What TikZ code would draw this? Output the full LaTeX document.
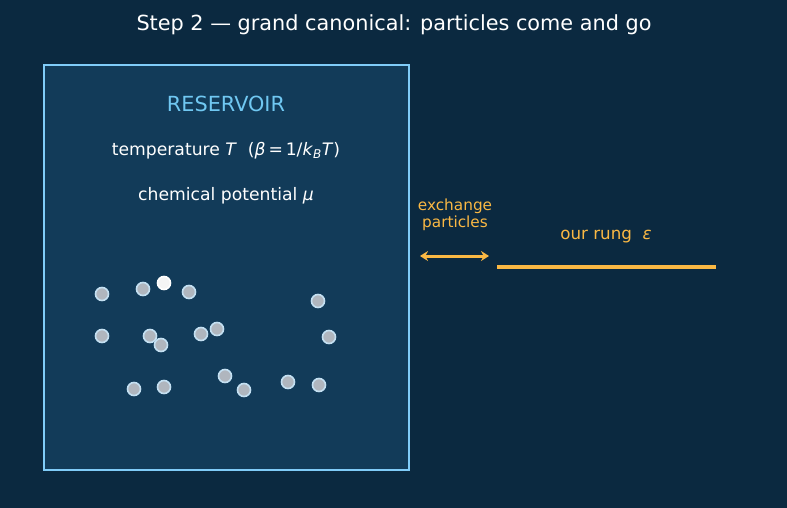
\documentclass[tikz,border=0pt]{standalone}
\usepackage{fontspec}
\usetikzlibrary{arrows.meta}
\setmainfont{DejaVu Sans}
\definecolor{bgnavy}{RGB}{11,41,64}
\definecolor{boxfill}{RGB}{18,59,89}
\definecolor{boxedge}{RGB}{128,204,248}
\definecolor{restext}{RGB}{112,200,242}
\definecolor{rungorange}{RGB}{250,184,68}
\definecolor{dotgray}{RGB}{176,182,190}
\definecolor{dotedge}{RGB}{196,224,242}
\tikzset{
  particle/.style={circle,fill=dotgray,draw=dotedge,line width=1.6pt,minimum size=13pt,inner sep=0pt},
  hotparticle/.style={particle,fill=white!92!gray,draw=white},
  infotext/.style={text=white,font=\fontsize{17.2}{20}\selectfont},
  orangetext/.style={text=rungorange,align=center},
}
\begin{document}
\begin{tikzpicture}[x=1pt,y=-1pt]
  % Background
  \fill[bgnavy] (0,0) rectangle (787,508);
  \useasboundingbox (0,0) rectangle (787,508);
  % Title
  \node[text=white,font=\fontsize{20.8}{24}\selectfont] (title) at (394,25) {Step 2 — grand canonical: particles come and go};
  % Reservoir box
  \draw[boxedge,fill=boxfill,line width=2.5pt] (44,65) rectangle (409,470);
  \node[text=restext,font=\fontsize{20.8}{24}\selectfont] (res) at (226,104) {RESERVOIR};
  \node[infotext] (temp) at (226,151) {temperature \textit{T}\ \ (\textit{β}\,=\,1/\textit{k}\textsubscript{\textit{B}}\textit{T})};
  \node[infotext] (chem) at (226,196) {chemical potential \textit{μ}};
  % Particles
  \foreach \px/\py [count=\i] in {102/294,143/289,189/292,318/301,102/336,150/336,161/345,201/334,217/329,329/337,134/389,164/387,225/376,244/390,288/382,319/385}
    \node[particle] (p\i) at (\px,\py) {};
  \node[hotparticle] (phot) at (164,283) {};
  % Exchange arrow
  \node[orangetext,font=\fontsize{15.3}{16}\selectfont] (exch) at (455,215) {exchange\\[1pt]particles};
  \coordinate (xl) at (420,256);
  \coordinate (xr) at (489,256);
  \draw[rungorange,line width=3pt,{Stealth[length=8pt,width=10pt]}-{Stealth[length=8pt,width=10pt]}] (xl) -- (xr);
  % Our rung
  \coordinate (rl) at (497,267);
  \coordinate (rr) at (716,267);
  \draw[rungorange,line width=4.8pt] (rl) -- (rr);
  \node[text=rungorange,font=\fontsize{16.7}{20}\selectfont] (rung) at (606,237) {our rung\ \ \textit{ε}};
\end{tikzpicture}
\end{document}
